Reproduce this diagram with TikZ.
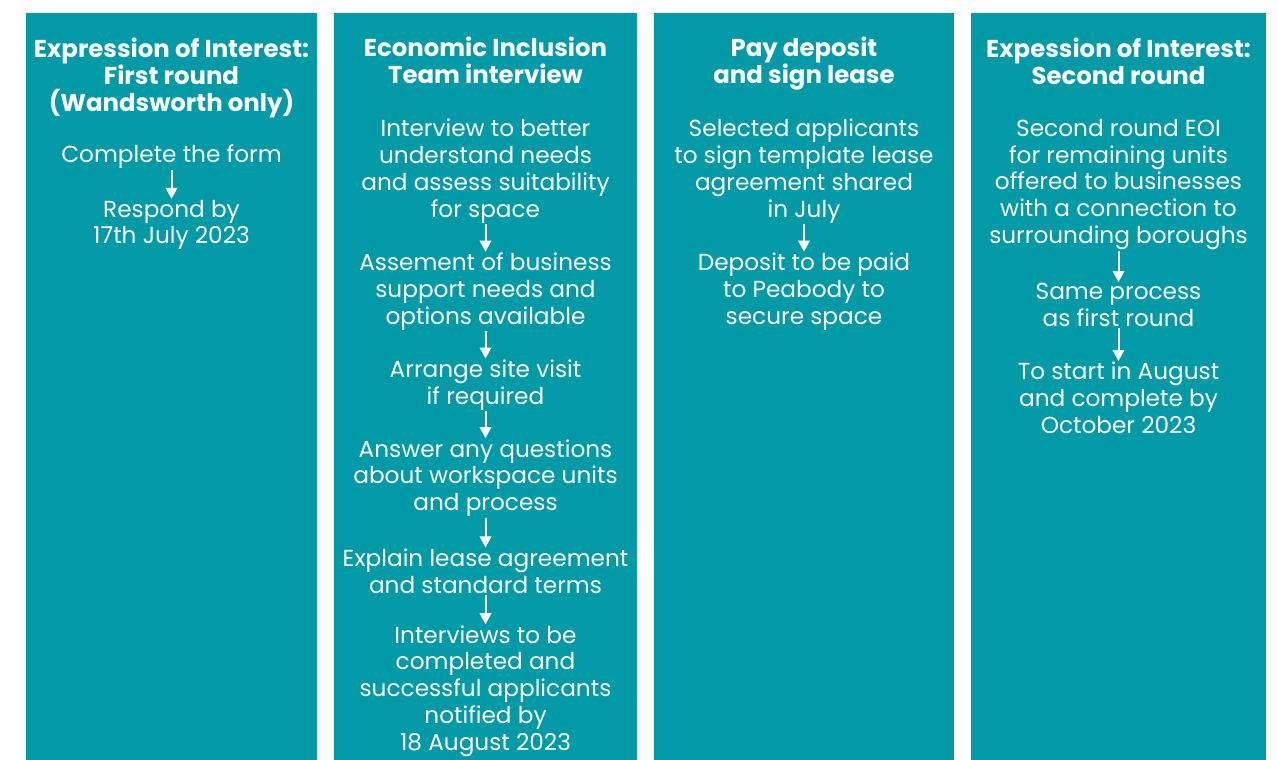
\documentclass[tikz,border=0pt]{standalone}
\usepackage{fontspec}
\setmainfont{Poppins}
\usetikzlibrary{arrows.meta}
\definecolor{panelteal}{HTML}{029AA7}
\begin{document}
\begin{tikzpicture}[x=1pt,y=-1pt,
  panel/.style={fill=panelteal,draw=none},
  head/.style={text=white,font=\bfseries\fontsize{24.4}{27}\selectfont,align=center,inner sep=0pt},
  body/.style={text=white,font=\fontsize{23.2}{26.8}\selectfont,align=center,inner sep=1pt},
  flow/.style={white,line width=2pt,-{Triangle[length=11pt,width=11.5pt]}}]
\useasboundingbox (0,0) rectangle (1278,760);
% four column panels
\fill[panel] (26,13) rectangle (317,760);
\fill[panel] (334,13) rectangle (637,760);
\fill[panel] (654,13) rectangle (954,760);
\fill[panel] (971,13) rectangle (1266,760);

% column 1
\node[head] (h1) at (171.5,78) {Expression of Interest:\\First round\\(Wandsworth only)};
\node[body] (a1) at (171.5,157) {Complete the form};
\node[body] (a2) at (171.5,225) {Respond by\\17th July 2023};
\draw[flow] (a1) -- (a2);

% column 2
\node[head] (h2) at (485.5,60.5) {Economic Inclusion\\Team interview};
\node[body] (b1) at (485.5,171) {Interview to better\\understand needs\\and assess suitability\\for space};
\node[body] (b2) at (485.5,291.5) {Assement of business\\support needs and\\options available};
\node[body] (b3) at (485.5,385) {Arrange site visit\\if required};
\node[body] (b4) at (485.5,478) {Answer any questions\\about workspace units\\and process};
\node[body] (b5) at (485.5,571) {Explain lease agreement\\and standard terms};
\node[body] (b6) at (485.5,691) {Interviews to be\\completed and\\successful applicants\\notified by\\18 August 2023};
\draw[flow] (b1) -- (b2);
\draw[flow] (b2) -- (b3);
\draw[flow] (b3) -- (b4);
\draw[flow] (b4) -- (b5);
\draw[flow] (b5) -- (b6);

% column 3
\node[head] (h3) at (804,63.5) {Pay deposit\\and sign lease};
\node[body] (c1) at (804,171) {Selected applicants\\to sign template lease\\agreement shared\\in July};
\node[body] (c2) at (804,291.5) {Deposit to be paid\\to Peabody to\\secure space};
\draw[flow] (c1) -- (c2);

% column 4
\node[head] (h4) at (1118.5,61.5) {Expession of Interest:\\Second round};
\node[body] (d1) at (1118.5,184.5) {Second round EOI\\for remaining units\\offered to businesses\\with a connection to\\surrounding boroughs};
\node[body] (d2) at (1118.5,305) {Same process\\as first round};
\node[body] (d3) at (1118.5,398) {To start in August\\and complete by\\October 2023};
\draw[flow] (d1) -- (d2);
\draw[flow] (d2) -- (d3);
\end{tikzpicture}
\end{document}
